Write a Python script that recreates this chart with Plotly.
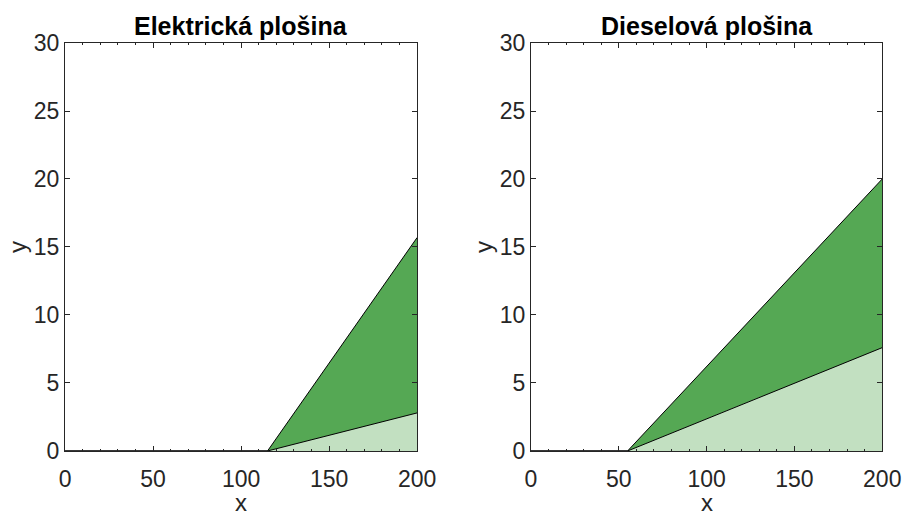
import plotly.graph_objects as go

# Operating envelopes for the two platforms
titles = ["Elektrická plošina", "Dieselová plošina"]
x_start = [115, 55]          # x where both boundaries leave y = 0
x_end = [200, 200]
upper_end = [15.7, 20.0]     # upper boundary value at x_end
lower_end = [2.8, 7.6]       # lower boundary value at x_end
x_ticks = [0, 50, 100, 150, 200]
y_ticks = [0, 5, 10, 15, 20, 25, 30]

dark_green = "rgb(85,168,84)"
light_green = "rgb(194,224,193)"
axis_col = "#262626"
font_family = "Liberation Sans, Arial, sans-serif"

fig = go.Figure()
domains = [(0.072, 0.462), (0.588, 0.977)]
y_dom = [0.1243, 0.9165]

for i in range(2):
    xa = "x" if i == 0 else "x2"
    ya = "y" if i == 0 else "y2"
    x0, x1 = x_start[i], x_end[i]
    # light region: below lower boundary
    fig.add_trace(go.Scatter(
        x=[x0, x1, x1, x0], y=[0, lower_end[i], 0, 0],
        fill="toself", fillcolor=light_green, mode="lines",
        line=dict(width=0), hoverinfo="skip", showlegend=False,
        xaxis=xa, yaxis=ya))
    # dark region: between lower and upper boundaries
    fig.add_trace(go.Scatter(
        x=[x0, x1, x1, x0], y=[0, upper_end[i], lower_end[i], 0],
        fill="toself", fillcolor=dark_green, mode="lines",
        line=dict(width=0), hoverinfo="skip", showlegend=False,
        xaxis=xa, yaxis=ya))
    # boundary lines
    fig.add_trace(go.Scatter(
        x=[0, x0, x1], y=[0, 0, upper_end[i]], mode="lines",
        line=dict(color="black", width=1), hoverinfo="skip",
        showlegend=False, xaxis=xa, yaxis=ya))
    fig.add_trace(go.Scatter(
        x=[0, x0, x1], y=[0, 0, lower_end[i]], mode="lines",
        line=dict(color="black", width=1), hoverinfo="skip",
        showlegend=False, xaxis=xa, yaxis=ya))

axis_common = dict(
    showgrid=False, zeroline=False, showline=True, linecolor=axis_col,
    linewidth=1, mirror="ticks", ticks="inside", ticklen=5,
    tickcolor=axis_col, automargin=False,
    tickfont=dict(size=23, color=axis_col, family=font_family),
)

for i in range(2):
    sfx = "" if i == 0 else "2"
    fig.update_layout(**{
        "xaxis" + sfx: dict(
            axis_common, domain=list(domains[i]), range=[0, 200],
            tickvals=x_ticks, anchor="y" + sfx, ticklabelstandoff=7,
            minor=dict(ticks="inside", dtick=10, ticklen=2, tickcolor=axis_col),
        ),
        "yaxis" + sfx: dict(
            axis_common, domain=y_dom, range=[0, 30],
            tickvals=y_ticks, anchor="x" + sfx,
        ),
    })

annotations = []
for i in range(2):
    mid = (domains[i][0] + domains[i][1]) / 2
    annotations.append(dict(
        text="<b>" + titles[i] + "</b>", xref="paper", yref="paper",
        x=mid, y=y_dom[1], yshift=1,
        xanchor="center", yanchor="bottom", showarrow=False,
        font=dict(size=25, color="black", family=font_family)))
    # axis titles
    annotations.append(dict(
        text="x", xref="paper", yref="paper", x=mid, y=0,
        xanchor="center", yanchor="bottom", height=22, valign="middle",
        showarrow=False,
        font=dict(size=24, color=axis_col, family=font_family)))
    annotations.append(dict(
        text="y", xref="paper", yref="paper",
        x=domains[i][0], xshift=-47, y=(y_dom[0] + y_dom[1]) / 2,
        xanchor="center", yanchor="middle", textangle=-90, showarrow=False,
        font=dict(size=24, color=axis_col, family=font_family)))

fig.update_layout(
    width=903, height=515,
    margin=dict(l=0, r=0, t=0, b=0),
    paper_bgcolor="white", plot_bgcolor="white",
    annotations=annotations,
)

fig.write_html("out.html")
